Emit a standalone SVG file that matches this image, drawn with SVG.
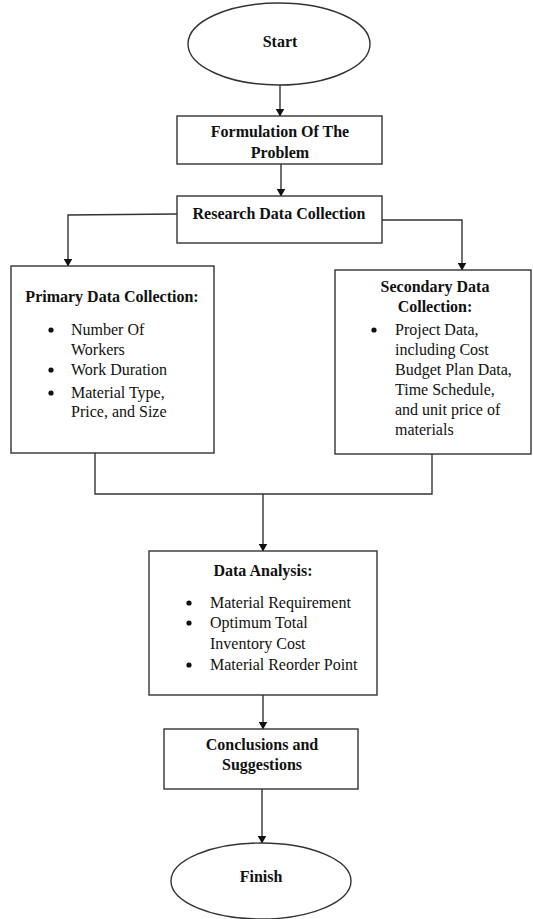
<svg xmlns="http://www.w3.org/2000/svg" width="533" height="919" viewBox="0 0 533 919">
<defs>
<marker id="ah" markerWidth="8" markerHeight="9" refX="7.5" refY="4.5" orient="auto" markerUnits="userSpaceOnUse">
<path d="M0,0 L8,4.5 L0,9 Z" fill="#111"/>
</marker>
<style>
.shape{fill:#fff;stroke:#333;stroke-width:1.4}
.conn{fill:none;stroke:#333;stroke-width:1.4}
.arr{marker-end:url(#ah)}
.dot{fill:#111}
text{font-family:"Liberation Serif","Times New Roman",serif;font-size:16px;fill:#111}
.b{font-weight:bold}
.c{text-anchor:middle}
</style>
</defs>
<rect width="533" height="919" fill="#fff"/>
<g id="connectors">
<line class="conn arr" x1="280" y1="85" x2="280" y2="116"/>
<line class="conn arr" x1="281" y1="164" x2="281" y2="196"/>
<polyline class="conn arr" points="177,214 68,215 68,266"/>
<polyline class="conn arr" points="382,220 462,220 462,270"/>
<polyline class="conn" points="95,453 95,494 432,494 432,454"/>
<line class="conn arr" x1="263" y1="494" x2="263" y2="551"/>
<line class="conn arr" x1="263" y1="695" x2="263" y2="729"/>
<line class="conn arr" x1="262" y1="789" x2="262" y2="843"/>
</g>
<g id="start">
<ellipse class="shape" cx="279" cy="44" rx="91" ry="41"/>
<text class="b c" x="280" y="47">Start</text>
</g>
<g id="formulation">
<rect class="shape" x="177" y="116" width="205" height="48"/>
<text class="b c" x="280" y="137">Formulation Of The</text>
<text class="b c" x="280" y="158">Problem</text>
</g>
<g id="research">
<rect class="shape" x="177" y="196" width="205" height="47"/>
<text class="b c" x="279" y="219">Research Data Collection</text>
</g>
<g id="primary">
<rect class="shape" x="11" y="266" width="203" height="187"/>
<text class="b c" x="112" y="302">Primary Data Collection:</text>
<circle class="dot" cx="51" cy="330" r="2.6"/><text x="71" y="335">Number Of</text>
<text x="71" y="355">Workers</text>
<circle class="dot" cx="51" cy="370" r="2.6"/><text x="71" y="375">Work Duration</text>
<circle class="dot" cx="51" cy="393" r="2.6"/><text x="71" y="398">Material Type,</text>
<text x="71" y="417">Price, and Size</text>
</g>
<g id="secondary">
<rect class="shape" x="335" y="270" width="196" height="184"/>
<text class="b c" x="435" y="292">Secondary Data</text>
<text class="b c" x="435" y="312">Collection:</text>
<circle class="dot" cx="374" cy="330" r="2.6"/><text x="395" y="335">Project Data,</text>
<text x="395" y="355">including Cost</text>
<text x="395" y="375">Budget Plan Data,</text>
<text x="395" y="395">Time Schedule,</text>
<text x="395" y="415">and unit price of</text>
<text x="395" y="435">materials</text>
</g>
<g id="analysis">
<rect class="shape" x="149" y="551" width="228" height="144"/>
<text class="b c" x="263" y="576">Data Analysis:</text>
<circle class="dot" cx="189" cy="603" r="2.6"/><text x="210" y="608">Material Requirement</text>
<circle class="dot" cx="189" cy="623" r="2.6"/><text x="210" y="628">Optimum Total</text>
<text x="210" y="649">Inventory Cost</text>
<circle class="dot" cx="189" cy="665" r="2.6"/><text x="210" y="670">Material Reorder Point</text>
</g>
<g id="conclusions">
<rect class="shape" x="164" y="729" width="194" height="60"/>
<text class="b c" x="262" y="750">Conclusions and</text>
<text class="b c" x="262" y="770">Suggestions</text>
</g>
<g id="finish">
<ellipse class="shape" cx="261" cy="881" rx="90" ry="38"/>
<text class="b c" x="261" y="882">Finish</text>
</g>
</svg>
